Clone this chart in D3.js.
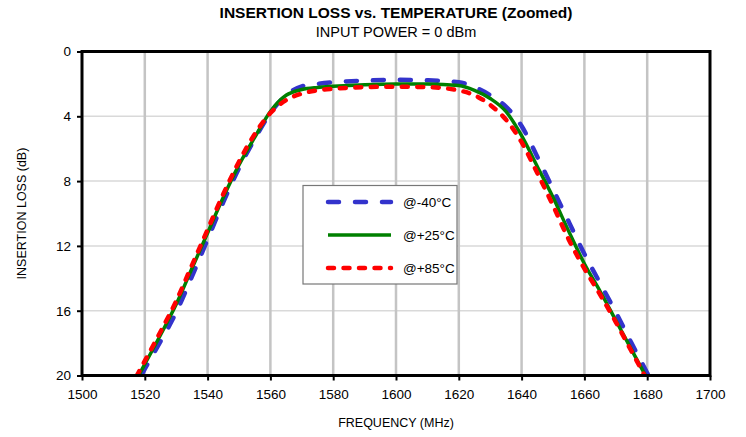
<!DOCTYPE html>
<html>
<head>
<meta charset="utf-8">
<script src="https://cdn.jsdelivr.net/npm/d3@7"></script>
<style>
  body { margin: 0; background: #fff; }
  svg { font-family: "Liberation Sans", Arial, sans-serif; }
</style>
</head>
<body>
<div id="chart"></div>
<script>
const width = 746, height = 437;
const margin = {top: 51.5, right: 36, bottom: 61.5, left: 82};

// frequency (MHz) and insertion loss (dB) for each temperature
const freq = [1515, 1520, 1525, 1530, 1535, 1540, 1545, 1550, 1555, 1560, 1565, 1570, 1575, 1580,
  1590, 1600, 1610, 1620, 1625, 1630, 1635, 1640, 1645, 1650, 1655, 1660, 1665, 1670, 1675, 1680, 1685];
const lossM40 = [21.4, 19.6, 17.9, 16.1, 13.9, 11.6, 9.3, 7.2, 5.4, 3.8, 2.7, 2.15, 2.0, 1.9,
  1.8, 1.75, 1.78, 1.9, 2.2, 2.7, 3.4, 4.6, 6.5, 8.5, 10.5, 12.5, 14.3, 16.1, 18.0, 19.85, 21.7];
const lossP25 = [21.1, 19.3, 17.5, 15.6, 13.4, 11.2, 9.0, 7.0, 5.3, 3.7, 2.7, 2.35, 2.22, 2.15,
  2.05, 2.0, 2.0, 2.1, 2.4, 2.9, 3.7, 5.2, 7.1, 9.0, 11.1, 13.1, 14.8, 16.6, 18.4, 20.2, 22.0];
const lossP85 = [20.9, 19.1, 17.3, 15.4, 13.2, 11.0, 8.8, 6.8, 5.1, 3.8, 3.0, 2.6, 2.4, 2.3,
  2.2, 2.17, 2.2, 2.4, 2.7, 3.3, 4.2, 5.6, 7.5, 9.5, 11.6, 13.4, 15.0, 16.7, 18.5, 20.3, 22.2];
const seriesNames = ['@-40°C', '@+25°C', '@+85°C'];
const xTicks = [1500, 1520, 1540, 1560, 1580, 1600, 1620, 1640, 1660, 1680, 1700];
const yTicks = [0, 4, 8, 12, 16, 20];

const styles = [
  {color: '#3333cc', width: 4.5, dash: '11,16', cap: 'round'},
  {color: '#008000', width: 3.5, dash: null, cap: 'butt'},
  {color: '#ff0000', width: 4.5, dash: '6,9.5', cap: 'round'}
];

const svg = d3.select('#chart').append('svg')
  .attr('width', width).attr('height', height);

const x = d3.scaleLinear().domain([1500, 1700]).range([margin.left, width - margin.right]);
const y = d3.scaleLinear().domain([0, 20]).range([margin.top, height - margin.bottom]);

// gridlines
svg.append('g').selectAll('line').data(yTicks.slice(1, -1)).join('line')
  .attr('x1', x(1500)).attr('x2', x(1700))
  .attr('y1', d => y(d)).attr('y2', d => y(d))
  .attr('stroke', '#d9d9d9').attr('stroke-width', 1.5);
svg.append('g').selectAll('line').data(xTicks.slice(1, -1)).join('line')
  .attr('x1', d => x(d)).attr('x2', d => x(d))
  .attr('y1', y(0)).attr('y2', y(20))
  .attr('stroke', '#c4c4c4').attr('stroke-width', 2.5);

// axes
const yAxis = svg.append('g')
  .attr('transform', `translate(${margin.left},0)`)
  .call(d3.axisLeft(y).tickValues(yTicks).tickSize(5).tickPadding(6));
const xAxis = svg.append('g')
  .attr('transform', `translate(0,${height - margin.bottom})`)
  .call(d3.axisBottom(x).tickValues(xTicks).tickSize(5).tickPadding(9).tickFormat(d3.format('d')));
[xAxis, yAxis].forEach(g => {
  g.select('.domain').remove();
  g.selectAll('.tick line').attr('stroke', '#000').attr('stroke-width', 2);
  g.selectAll('text').attr('font-size', 13.5).attr('fill', '#000')
    .attr('font-family', '"Liberation Sans", Arial, sans-serif');
});

// curves
svg.append('clipPath').attr('id', 'plotclip').append('rect')
  .attr('x', x(1500)).attr('y', y(0))
  .attr('width', x(1700) - x(1500)).attr('height', y(20) - y(0));

const line = d3.line().x(d => x(d[0])).y(d => y(d[1])).curve(d3.curveMonotoneX);
const curves = svg.append('g').attr('clip-path', 'url(#plotclip)');
[lossM40, lossP25, lossP85].forEach((vals, i) => {
  curves.append('path')
    .datum(freq.map((f, j) => [f, vals[j]]))
    .attr('d', line)
    .attr('fill', 'none')
    .attr('stroke', styles[i].color)
    .attr('stroke-width', styles[i].width)
    .attr('stroke-linecap', styles[i].cap)
    .attr('stroke-dasharray', styles[i].dash);
});

// frame
svg.append('rect')
  .attr('x', x(1500)).attr('y', y(0))
  .attr('width', x(1700) - x(1500)).attr('height', y(20) - y(0))
  .attr('fill', 'none').attr('stroke', '#000').attr('stroke-width', 3);

// legend
const legend = svg.append('g').attr('transform', 'translate(303,185.5)');
legend.append('rect')
  .attr('width', 154).attr('height', 98.5)
  .attr('fill', '#fff').attr('stroke', '#777').attr('stroke-width', 1.2);
seriesNames.forEach((name, i) => {
  const ly = 16.5 + i * 33;
  legend.append('line')
    .attr('x1', 25).attr('x2', 88).attr('y1', ly).attr('y2', ly)
    .attr('stroke', styles[i].color)
    .attr('stroke-width', styles[i].width)
    .attr('stroke-linecap', styles[i].cap)
    .attr('stroke-dasharray', styles[i].dash);
  legend.append('text')
    .attr('x', 100).attr('y', ly + 5)
    .attr('font-size', 13.5).text(name);
});

// titles
svg.append('text')
  .attr('x', (x(1500) + x(1700)) / 2).attr('y', 18)
  .attr('text-anchor', 'middle').attr('font-size', 15.5).attr('font-weight', 'bold')
  .text('INSERTION LOSS vs. TEMPERATURE (Zoomed)');
svg.append('text')
  .attr('x', (x(1500) + x(1700)) / 2).attr('y', 37)
  .attr('text-anchor', 'middle').attr('font-size', 14.5)
  .text('INPUT POWER = 0 dBm');
svg.append('text')
  .attr('x', (x(1500) + x(1700)) / 2).attr('y', 427)
  .attr('text-anchor', 'middle').attr('font-size', 12.5)
  .text('FREQUENCY (MHz)');
svg.append('text')
  .attr('transform', `translate(26,${(y(0) + y(20)) / 2}) rotate(-90)`)
  .attr('text-anchor', 'middle').attr('font-size', 12.5)
  .text('INSERTION LOSS (dB)');
</script>
</body>
</html>
